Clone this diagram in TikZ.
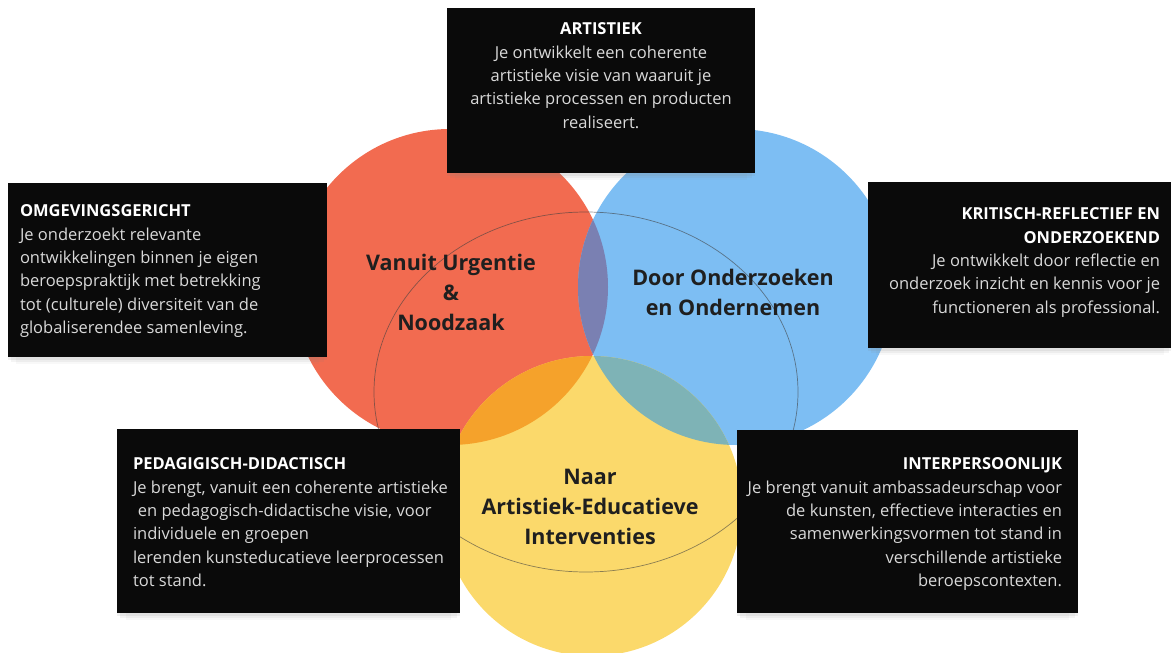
\documentclass[tikz,border=0pt]{standalone}
\usepackage{fontspec}
\setmainfont{Open Sans}
\usetikzlibrary{positioning,shadows}
\definecolor{vred}{HTML}{F26B50}
\definecolor{vblue}{HTML}{7DBEF3}
\definecolor{vyellow}{HTML}{FBD96B}
\definecolor{vpurple}{HTML}{7A80B2}
\definecolor{vorange}{HTML}{F5A22B}
\definecolor{vteal}{HTML}{7EB3B6}
\definecolor{boxtxt}{HTML}{D9D9D9}
\tikzset{
    %black competence boxes
    box/.style={
      rectangle,
      fill=black!96,
      drop shadow={shadow xshift=0pt, shadow yshift=-3pt, opacity=.12},
      drop shadow={shadow xshift=0pt, shadow yshift=-7pt, shadow scale=.98, opacity=.09},
      drop shadow={shadow xshift=0pt, shadow yshift=-12pt, shadow scale=.95, opacity=.06},
      inner sep=0pt},
    boxtext/.style={
      text=boxtxt,
      inner sep=0pt,
      font=\fontsize{16.5}{23.3}\selectfont},
    ring/.style={
      text=black!88,
      inner sep=0pt,
      align=center,
      font=\bfseries\fontsize{21.5}{30}\selectfont},
}
\newcommand{\boxtitle}[1]{\textcolor{white}{\bfseries #1}}

\begin{document}
\begin{tikzpicture}[x=1pt, y=-1pt]
    \useasboundingbox (0,0) rectangle (1171,653);
    % the three circles
    \fill[vred] (450,287) circle [radius=158pt];
    \fill[vblue] (736,287) circle [radius=158pt];
    \fill[vyellow] (592,506) circle [radius=150pt];
    \begin{scope}
      \clip (450,287) circle [radius=158pt];
      \fill[vpurple] (736,287) circle [radius=158pt];
      \fill[vorange] (592,506) circle [radius=150pt];
    \end{scope}
    \begin{scope}
      \clip (736,287) circle [radius=158pt];
      \fill[vteal] (592,506) circle [radius=150pt];
    \end{scope}
    \draw[black!75, opacity=.6, line width=.7pt] (586,392) ellipse [x radius=212pt, y radius=180pt];

    \node (urg) [ring] at (451,292)
          {Vanuit Urgentie\\\&\\Noodzaak};
    \node (ond) [ring] at (733,292)
          {Door Onderzoeken\\en Ondernemen};
    \node (int) [ring] at (590,507)
          {Naar\\Artistiek-Educatieve\\Interventies};

    % boxes
    \node (art) [box, minimum width=308pt, minimum height=165pt] at (601,90.5) {};
    \node (omg) [box, minimum width=319pt, minimum height=174pt] at (167.5,270) {};
    \node (krit) [box, minimum width=304pt, minimum height=166pt] at (1020,265) {};
    \node (ped) [box, minimum width=343pt, minimum height=184pt] at (288.5,521) {};
    \node (inter) [box, minimum width=341pt, minimum height=183pt] at (907.5,521.5) {};

    \node (arttxt) [boxtext, align=center, anchor=north] at ([yshift=-15pt]art.north)
          {\boxtitle{ARTISTIEK}\\
           Je ontwikkelt een coherente\\
           artistieke visie van waaruit je\\
           artistieke processen en producten\\
           realiseert.};
    \node (omgtxt) [boxtext, align=left, anchor=north west] at ([shift={(12,22)}]omg.north west)
          {\boxtitle{OMGEVINGSGERICHT}\\
           Je onderzoekt relevante\\
           ontwikkelingen binnen je eigen\\
           beroepspraktijk met betrekking\\
           tot (culturele) diversiteit van de\\
           globaliserendee samenleving.};
    \node (krittxt) [boxtext, align=right, anchor=north east] at ([shift={(-12,26)}]krit.north east)
          {\boxtitle{KRITISCH-REFLECTIEF EN}\\
           \boxtitle{ONDERZOEKEND}\\
           Je ontwikkelt door reflectie en\\
           onderzoek inzicht en kennis voor je\\
           functioneren als professional.};
    \node (pedtxt) [boxtext, align=left, anchor=north west] at ([shift={(16,29)}]ped.north west)
          {\boxtitle{PEDAGIGISCH-DIDACTISCH}\\
           Je brengt, vanuit een coherente artistieke\\
           \hspace{.3em}en pedagogisch-didactische visie, voor\\
           individuele en groepen\\
           lerenden kunsteducatieve leerprocessen\\
           tot stand.};
    \node (intertxt) [boxtext, align=right, anchor=north east] at ([shift={(-16,28)}]inter.north east)
          {\boxtitle{INTERPERSOONLIJK}\\
           Je brengt vanuit ambassadeurschap voor\\
           de kunsten, effectieve interacties en\\
           samenwerkingsvormen tot stand in\\
           verschillende artistieke\\
           beroepscontexten.};
\end{tikzpicture}
\end{document}
